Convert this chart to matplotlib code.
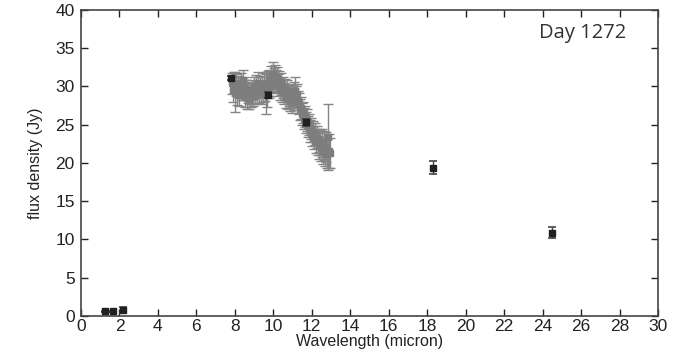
import matplotlib
matplotlib.use("Agg")
import matplotlib.pyplot as plt
import numpy as np

# Photometry (black squares)
phot_wl = [1.25, 1.65, 2.2, 7.8, 9.7, 11.7, 18.3, 24.5]
phot_flux = [0.6, 0.6, 0.8, 31.1, 28.9, 25.3, 19.4, 10.9]
phot_err = [0.1, 0.1, 0.35, 0.3, 0.4, 0.4, 0.85, 0.75]

# Spectrum (grey points with error bars)
spec_wl = [
    7.85, 7.90, 7.95, 8.00, 8.05, 8.10, 8.15, 8.20, 8.25, 8.30,
    8.35, 8.40, 8.45, 8.50, 8.55, 8.60, 8.65, 8.70, 8.75, 8.80,
    8.85, 8.90, 8.95, 9.00, 9.05, 9.10, 9.15, 9.20, 9.25, 9.30,
    9.35, 9.40, 9.45, 9.50, 9.55, 9.60, 9.65, 9.70, 9.75, 9.80,
    9.85, 9.90, 9.95, 10.00, 10.05, 10.10, 10.15, 10.20, 10.25, 10.30,
    10.35, 10.40, 10.45, 10.50, 10.55, 10.60, 10.65, 10.70, 10.75, 10.80,
    10.85, 10.90, 10.95, 11.00, 11.05, 11.10, 11.15, 11.20, 11.25, 11.30,
    11.35, 11.40, 11.45, 11.50, 11.55, 11.60, 11.65, 11.70, 11.75, 11.80,
    11.85, 11.90, 11.95, 12.00, 12.05, 12.10, 12.15, 12.20, 12.25, 12.30,
    12.35, 12.40, 12.45, 12.50, 12.55, 12.60, 12.65, 12.70, 12.75, 12.80,
    12.85, 12.90, 12.95,
]
spec_flux = [
    30.4, 29.6, 30.5, 29.3, 30.2, 29.0, 30.1, 28.9, 29.8, 30.4,
    29.7, 30.8, 29.5, 29.9, 28.7, 29.6, 28.5, 29.2, 28.4, 29.1,
    28.7, 29.5, 28.9, 29.8, 29.0, 30.1, 29.3, 30.4, 29.2, 30.0,
    29.1, 29.9, 29.4, 30.2, 29.5, 29.0, 29.6, 30.4, 29.9, 30.8,
    30.1, 31.2, 30.6, 31.6, 30.9, 31.4, 30.7, 31.1, 30.2, 30.6,
    29.7, 30.3, 29.4, 29.9, 29.1, 29.6, 28.6, 29.4, 28.5, 28.9,
    28.2, 28.8, 28.0, 28.7, 28.3, 29.0, 29.4, 28.6, 28.9, 28.0,
    27.8, 27.0, 27.2, 26.4, 26.6, 25.8, 26.1, 25.3, 25.6, 24.8,
    25.0, 24.2, 24.5, 23.7, 24.1, 23.3, 23.8, 22.9, 23.4, 22.6,
    23.0, 22.2, 22.7, 21.9, 22.6, 21.6, 22.3, 21.4, 22.1, 21.2,
    23.4, 21.6, 21.3,
]
spec_err = [
    1.4, 1.6, 1.4, 2.6, 1.4, 1.4, 1.3, 1.4, 1.3, 1.4,
    1.4, 1.4, 1.3, 1.4, 1.4, 1.3, 1.4, 1.4, 1.3, 1.4,
    1.4, 1.3, 1.4, 1.4, 1.3, 1.4, 1.4, 1.5, 1.4, 1.4,
    1.4, 1.4, 1.4, 1.5, 1.4, 2.6, 2.3, 1.6, 1.4, 1.4,
    1.4, 1.5, 1.4, 1.6, 1.5, 1.4, 1.4, 1.4, 1.4, 1.4,
    1.4, 1.4, 1.4, 1.4, 1.4, 1.4, 1.4, 1.4, 1.4, 1.4,
    1.4, 1.4, 1.4, 1.4, 1.4, 1.6, 1.8, 1.4, 1.4, 1.4,
    1.4, 1.4, 1.4, 1.4, 1.4, 1.4, 1.4, 1.4, 1.4, 1.4,
    1.4, 1.4, 1.4, 1.5, 1.4, 1.5, 1.4, 1.6, 1.5, 1.6,
    1.5, 1.7, 1.6, 1.6, 1.8, 1.7, 1.9, 1.8, 2.0, 1.9,
    4.3, 2.2, 2.0,
]

x_ticks = list(range(0, 31, 2))
y_ticks = list(range(0, 41, 5))

plt.rcParams['font.family'] = ['Liberation Sans', 'DejaVu Sans']

fig = plt.figure(figsize=(6.9, 3.56), dpi=100)
ax = fig.add_axes([0.1174, 0.1124, 0.8362, 0.8595])

ax.errorbar(spec_wl, spec_flux, yerr=spec_err, fmt='s', color='#7d7d7d',
            ecolor='#858585', markersize=4, elinewidth=1.0, capsize=3.5,
            capthick=1.0, zorder=2)
ax.errorbar(phot_wl, phot_flux, yerr=phot_err, fmt='s', color='#231f20',
            ecolor='#444444', markersize=4.8, elinewidth=1.0, capsize=3,
            capthick=1.2, zorder=3)

ax.set_xlim(0, 30)
ax.set_ylim(0, 40)
ax.set_xticks(x_ticks)
ax.set_yticks(y_ticks)
ax.tick_params(direction='in', length=5, width=1, top=True, right=True,
               labelsize=12.5, colors='#222222')
ax.tick_params(axis='x', pad=2.5)
ax.tick_params(axis='y', pad=4.5)
for s in ax.spines.values():
    s.set_color('#444444')
    s.set_linewidth(1.2)

ax.set_xlabel('Wavelength (micron)', fontsize=11.5, labelpad=0, color='#222222')
ax.set_ylabel('flux density (Jy)', fontsize=11.5, labelpad=9, color='#222222')

ax.text(0.945, 0.925, 'Day 1272', transform=ax.transAxes, ha='right', va='center',
        fontsize=14.5, family=['Open Sans', 'DejaVu Sans'], color='#333333')

fig.savefig('out.png', dpi=100)
